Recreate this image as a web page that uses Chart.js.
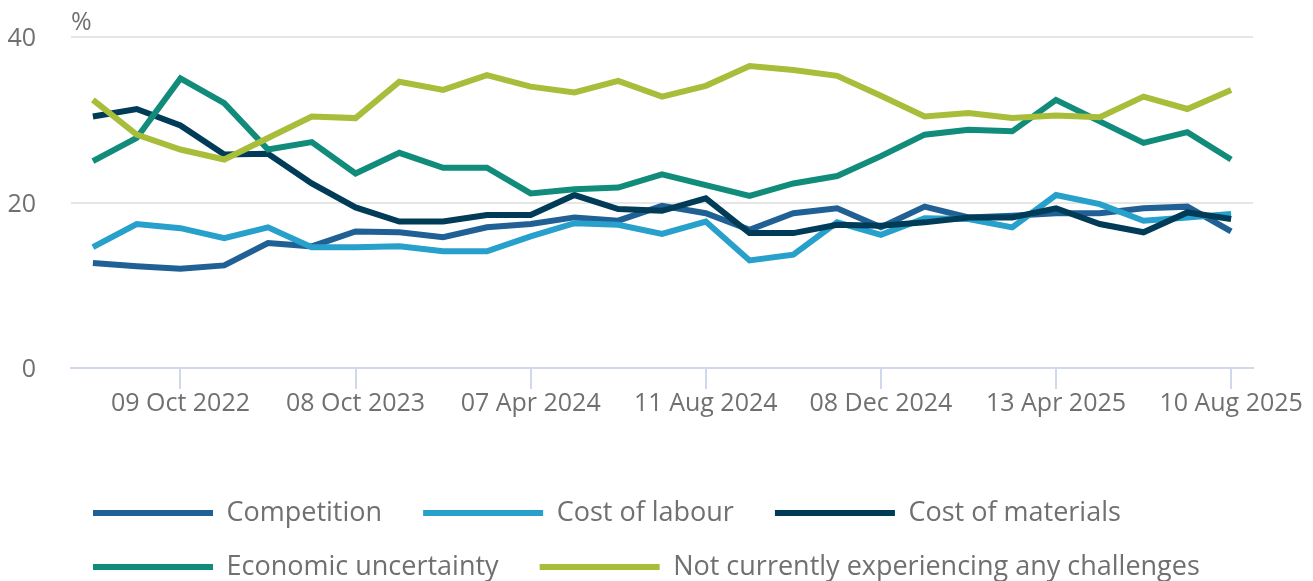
<!DOCTYPE html>
<html>
<head>
<meta charset="utf-8">
<script src="https://cdn.jsdelivr.net/npm/chart.js@4.4.1/dist/chart.umd.min.js"></script>
<style>
  html, body { margin: 0; padding: 0; background: #ffffff; }
  #wrap { width: 1313px; height: 581px; position: relative; }
</style>
</head>
<body>
<div id="wrap"><canvas id="c"></canvas></div>
<script>
// Category labels (only every 4th is printed on the axis)
const categories = [
  '', '', '09 Oct 2022', '', '', '', '08 Oct 2023', '', '', '', '07 Apr 2024', '', '', '',
  '11 Aug 2024', '', '', '', '08 Dec 2024', '', '', '', '13 Apr 2025', '', '', '', '10 Aug 2025'
];
const yTicks = [0, 20, 40];
const unitLabel = '%';

const seriesNames = [
  'Competition',
  'Cost of labour',
  'Cost of materials',
  'Economic uncertainty',
  'Not currently experiencing any challenges'
];
const seriesColors = ['#206095', '#27a0cc', '#003c57', '#118c7b', '#a8bd3a'];

const competition = [12.7, 12.3, 12.0, 12.4, 15.1, 14.7, 16.5, 16.4, 15.8, 17.0, 17.4, 18.2, 17.8, 19.6, 18.7, 16.7, 18.7, 19.3, 17.0, 19.5, 18.2, 18.4, 18.7, 18.7, 19.3, 19.5, 16.5];
const costOfLabour = [14.6, 17.4, 16.9, 15.7, 17.0, 14.6, 14.6, 14.7, 14.1, 14.1, 15.9, 17.5, 17.3, 16.2, 17.7, 13.0, 13.7, 17.6, 16.1, 18.1, 18.0, 17.0, 20.9, 19.8, 17.8, 18.2, 18.6];
const costOfMaterials = [30.4, 31.3, 29.3, 25.8, 25.9, 22.3, 19.4, 17.7, 17.7, 18.5, 18.5, 20.9, 19.2, 19.0, 20.5, 16.3, 16.3, 17.3, 17.2, 17.6, 18.2, 18.2, 19.3, 17.4, 16.4, 18.8, 18.0];
const economicUncertainty = [25.0, 27.8, 35.0, 32.0, 26.4, 27.3, 23.5, 26.0, 24.2, 24.2, 21.1, 21.6, 21.8, 23.4, 22.1, 20.8, 22.3, 23.2, 25.6, 28.2, 28.8, 28.6, 32.4, 29.8, 27.2, 28.5, 25.2];
const notExperiencing = [32.4, 28.2, 26.4, 25.2, 27.8, 30.4, 30.2, 34.6, 33.6, 35.4, 34.0, 33.3, 34.7, 32.8, 34.1, 36.5, 36.0, 35.3, 32.9, 30.4, 30.8, 30.2, 30.5, 30.3, 32.8, 31.3, 33.6];

const seriesValues = [competition, costOfLabour, costOfMaterials, economicUncertainty, notExperiencing];

const FONT = "'Open Sans', 'Noto Sans', sans-serif";
const TEXT = '#707070';
const CANVAS_H = 581;
const PLOT_BOTTOM = 368;
const LEGEND_TOP = 472.5;
const LEGEND_X_SHIFT = 66;

const datasets = seriesNames.map((name, i) => ({
  label: name,
  data: seriesValues[i],
  borderColor: seriesColors[i],
  backgroundColor: seriesColors[i],
  borderWidth: 6,
  pointRadius: 0,
  pointHoverRadius: 0,
  tension: 0,
  fill: false,
  order: seriesNames.length - i
}));

const legendPlacer = {
  id: 'legendPlacer',
  afterLayout(chart) {
    const lg = chart.legend;
    if (!lg) return;
    const h = lg.height;
    lg.left = LEGEND_X_SHIFT;
    lg.right = LEGEND_X_SHIFT + lg.width;
    lg.top = LEGEND_TOP;
    lg.bottom = LEGEND_TOP + h;
  }
};

const unitText = {
  id: 'unitText',
  afterDraw(chart) {
    const ctx = chart.ctx;
    ctx.save();
    ctx.font = "25px " + FONT;
    ctx.fillStyle = TEXT;
    ctx.textAlign = 'left';
    ctx.textBaseline = 'middle';
    ctx.fillText(unitLabel, chart.chartArea.left, 22.5);
    ctx.restore();
  }
};

new Chart(document.getElementById('c'), {
  type: 'line',
  data: { labels: categories, datasets },
  plugins: [legendPlacer, unitText],
  options: {
    responsive: true,
    maintainAspectRatio: false,
    animation: false,
    layout: { padding: { left: 0, right: 60, top: 37, bottom: 0 } },
    plugins: {
      tooltip: { enabled: false },
      title: { display: false },
      legend: {
        display: true,
        position: 'bottom',
        align: 'start',
        labels: {
          color: TEXT,
          font: { family: FONT, size: 27 },
          boxWidth: 120,
          boxHeight: 6,
          padding: 27,
          sort: (a, b) => a.datasetIndex - b.datasetIndex,
          generateLabels(chart) {
            return chart.data.datasets.map((ds, i) => ({
              text: ds.label + '  ',
              fillStyle: ds.borderColor,
              strokeStyle: ds.borderColor,
              lineWidth: 0,
              fontColor: TEXT,
              hidden: false,
              datasetIndex: i
            }));
          }
        }
      }
    },
    scales: {
      x: {
        offset: true,
        border: { display: true, color: '#cfd8ec', width: 2 },
        grid: {
          display: true,
          offset: false,
          drawOnChartArea: false,
          drawTicks: true,
          tickLength: 21,
          lineWidth: 2,
          color: (ctx) => (ctx.index % 4 === 2 ? '#cfd8ec' : 'rgba(0,0,0,0)')
        },
        ticks: {
          autoSkip: false,
          maxRotation: 0,
          minRotation: 0,
          padding: 0,
          color: TEXT,
          font: { family: FONT, size: 25 },
          callback: (v, i) => categories[i]
        },
        afterFit(scale) {
          const lh = scale.chart.legend ? scale.chart.legend.height : 0;
          scale.height = CANVAS_H - PLOT_BOTTOM - lh;
        }
      },
      y: {
        min: 0,
        max: 40,
        border: { display: false },
        grid: {
          drawTicks: false,
          lineWidth: 2,
          color: (ctx) => (ctx.tick && ctx.tick.value === 0 ? 'rgba(0,0,0,0)' : '#e6e6e6')
        },
        afterBuildTicks(scale) {
          scale.ticks = yTicks.map(v => ({ value: v }));
        },
        ticks: {
          padding: 35,
          labelOffset: 2,
          color: TEXT,
          font: { family: FONT, size: 25 }
        },
        afterFit(scale) {
          scale.width = 71;
          scale.paddingTop = 0;
          scale.paddingBottom = 0;
        }
      }
    }
  }
});
</script>
</body>
</html>
